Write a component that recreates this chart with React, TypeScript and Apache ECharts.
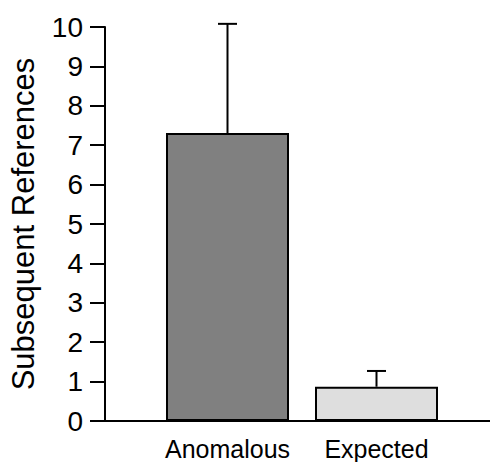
import React, { useEffect, useRef } from "react";
import * as echarts from "echarts";

const categories = ["Anomalous", "Expected"];
const values = [7.31, 0.87];
const errorTops = [10.08, 1.27];
const barColors = ["#808080", "#dedede"];
const yTicks = [0, 10, 1]; // min, max, interval

const FONT = "'Liberation Sans', Arial, Helvetica, sans-serif";

export default function App() {
  const ref = useRef<HTMLDivElement>(null);
  useEffect(() => {
    if (!ref.current) return;
    const chart = echarts.init(ref.current, null, { renderer: "svg" });
    const top = 27;
    const bottom = 41;
    chart.setOption({
      animation: false,
      backgroundColor: "#ffffff",
      grid: [
        { left: 153, right: 39, top, bottom, containLabel: false, outerBoundsMode: "none" },
        { left: 105, right: 0, top, bottom, containLabel: false, outerBoundsMode: "none" },
      ],
      xAxis: [
        {
          type: "category",
          gridIndex: 0,
          data: categories,
          axisLine: { show: false },
          axisTick: { show: false },
          axisLabel: {
            interval: 0,
            fontSize: 25,
            color: "#000",
            fontFamily: FONT,
            margin: 15,
            hideOverlap: false,
          },
        },
        {
          type: "value",
          gridIndex: 1,
          min: 0,
          max: 1,
          axisLine: { show: true, lineStyle: { color: "#000", width: 2 } },
          axisTick: { show: false },
          axisLabel: { show: false },
          splitLine: { show: false },
        },
      ],
      yAxis: [
        {
          type: "value",
          gridIndex: 0,
          min: yTicks[0],
          max: yTicks[1],
          interval: yTicks[2],
          show: false,
        },
        {
          type: "value",
          gridIndex: 1,
          min: yTicks[0],
          max: yTicks[1],
          interval: yTicks[2],
          name: "Subsequent References",
          nameLocation: "middle",
          nameGap: 66,
          nameTextStyle: { fontSize: 31, color: "#000", fontFamily: FONT },
          axisLine: { show: true, lineStyle: { color: "#000", width: 2 } },
          axisTick: { show: true, length: 15, lineStyle: { color: "#000", width: 2 } },
          axisLabel: { fontSize: 28, color: "#000", fontFamily: FONT, margin: 22 },
          splitLine: { show: false },
        },
      ],
      series: [
        {
          type: "bar",
          xAxisIndex: 0,
          yAxisIndex: 0,
          barWidth: 123,
          data: values.map((v, i) => ({
            value: v,
            itemStyle: { color: barColors[i], borderColor: "#000", borderWidth: 2 },
          })),
          z: 3,
        },
        {
          type: "custom",
          xAxisIndex: 0,
          yAxisIndex: 0,
          z: 2,
          data: values.map((v, i) => [i, v, errorTops[i]]),
          renderItem: (params: any, api: any) => {
            const x = api.value(0);
            const base = api.coord([x, api.value(1)]);
            const topPt = api.coord([x, api.value(2)]);
            const half = 9.5;
            return {
              type: "group",
              children: [
                {
                  type: "line",
                  shape: { x1: base[0], y1: base[1], x2: topPt[0], y2: topPt[1] },
                  style: { stroke: "#000", lineWidth: 2 },
                },
                {
                  type: "line",
                  shape: { x1: topPt[0] - half, y1: topPt[1], x2: topPt[0] + half, y2: topPt[1] },
                  style: { stroke: "#000", lineWidth: 2 },
                },
              ],
            };
          },
        },
      ],
    });
    return () => chart.dispose();
  }, []);
  return (
    <div
      ref={ref}
      style={{ position: "fixed", left: 0, top: 0, width: 490, height: 462 }}
    />
  );
}
